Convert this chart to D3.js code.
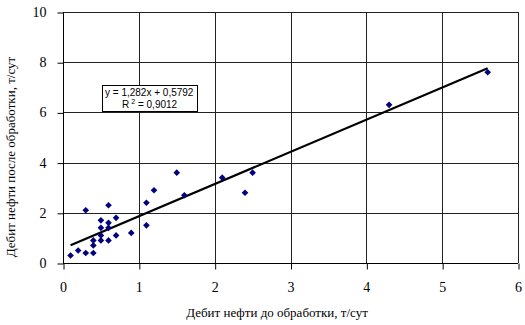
<!DOCTYPE html>
<html>
<head>
<meta charset="utf-8">
<script src="https://cdn.jsdelivr.net/npm/d3@7"></script>
<style>
  body { margin: 0; background: #fff; }
  text { font-family: "Liberation Serif", "Times New Roman", serif; }
</style>
</head>
<body>
<script>

var width = 525,
	height = 325;

// скважины: дебит до и после обработки
var before = [0.1, 0.2, 0.3, 0.4, 0.4, 0.4, 0.5, 0.5, 0.6, 0.7, 0.5, 0.6, 0.5, 0.7, 0.6, 0.9, 1.1, 1.1, 0.3, 0.6, 1.2, 1.6, 1.5, 2.1, 2.4, 2.5, 4.3, 5.6];
var after  = [0.3, 0.5, 0.4, 0.4, 0.7, 0.9, 0.9, 1.1, 0.9, 1.1, 1.4, 1.6, 1.7, 1.8, 1.4, 1.2, 1.5, 2.4, 2.1, 2.3, 2.9, 2.7, 3.6, 3.4, 2.8, 3.6, 6.3, 7.6];

var xTicks = [0, 1, 2, 3, 4, 5, 6];
var yTicks = [0, 2, 4, 6, 8, 10];

var slope = 1.282,
	intercept = 0.5792,
	r2 = '0,9012';

var fmt = function(v){ return String(v).replace('.', ','); };

var svg = d3.select('body').append('svg')
			.attr('width', width)
			.attr('height', height)

var x = d3.scaleLinear()
			.domain([0, 6])
			.range([63, 518]);

var y = d3.scaleLinear()
			.domain([0, 10])
			.range([263, 12]);

// сетка
svg.selectAll('.hgrid')
	.data(yTicks.slice(1))
	.enter().append('line').classed('hgrid', true)
	.attr('x1', x(0)).attr('x2', x(6))
	.attr('y1', function(d){ return Math.round(y(d)) + 0.5 })
	.attr('y2', function(d){ return Math.round(y(d)) + 0.5 })
	.attr('stroke', '#222')
	.attr('stroke-width', 1)

svg.selectAll('.vgrid')
	.data(xTicks.slice(1))
	.enter().append('line').classed('vgrid', true)
	.attr('y1', y(0)).attr('y2', y(10))
	.attr('x1', function(d){ return Math.round(x(d)) + 0.5 })
	.attr('x2', function(d){ return Math.round(x(d)) + 0.5 })
	.attr('stroke', '#222')
	.attr('stroke-width', 1)

// оси
var yAxis = svg.append('g')
	.attr('transform', 'translate(' + (Math.round(x(0)) + 0.5) + ',0)')
	.call(d3.axisLeft(y).tickValues(yTicks).tickSize(6).tickPadding(11).tickFormat(fmt));

var xAxis = svg.append('g')
	.attr('transform', 'translate(0,' + (Math.round(y(0)) + 0.5) + ')')
	.call(d3.axisBottom(x).tickValues(xTicks).tickSize(6).tickPadding(13).tickFormat(fmt));

[yAxis, xAxis].forEach(function(a){
	a.attr('font-family', '"Liberation Serif", serif').attr('font-size', 14);
	a.select('.domain').attr('stroke', '#000').attr('d', function(){
		return a === yAxis ? 'M0,' + y(0) + 'V' + y(10) : 'M' + x(0) + ',0H' + x(6);
	});
	a.selectAll('.tick line').attr('stroke', '#000');
	a.selectAll('.tick line').attr('transform', function(){ return a === yAxis ? 'translate(0,0.5)' : 'translate(0.5,0)' });
	a.selectAll('.tick text')
		.attr('fill', '#000')
		.attr('font-family', '"Liberation Serif", serif')
		.attr('font-size', 14);
});

// линия тренда
var x0 = d3.min(before), x1 = d3.max(before);
svg.append('line')
	.attr('x1', x(x0)).attr('y1', y(slope * x0 + intercept))
	.attr('x2', x(x1)).attr('y2', y(slope * x1 + intercept))
	.attr('stroke', '#000')
	.attr('stroke-width', 2.2)

// точки (ромбы)
var pts = before.map(function(v, i){ return {b: v, a: after[i]} });

svg.selectAll('.pt')
	.data(pts)
	.enter().append('path').classed('pt', true)
	.attr('d', d3.symbol().type(d3.symbolSquare).size(22))
	.attr('transform', function(d){ return 'translate(' + x(d.b) + ',' + y(d.a) + ') rotate(45)' })
	.attr('fill', '#000080')

// подпись уравнения
var lbl = svg.append('g').attr('transform', 'translate(102,85)');
lbl.append('rect')
	.attr('x', 0.5).attr('y', 0.5)
	.attr('width', 95).attr('height', 26)
	.attr('fill', '#fff')
	.attr('stroke', '#000')
lbl.append('text')
	.attr('x', 3).attr('y', 11)
	.style('font-family', '"Liberation Sans", Arial, sans-serif')
	.style('font-size', '10px')
	.text('y = ' + fmt(slope) + 'x + ' + fmt(intercept))
var r2t = lbl.append('text')
	.attr('x', 20).attr('y', 23)
	.style('font-family', '"Liberation Sans", Arial, sans-serif')
	.style('font-size', '10px')
r2t.append('tspan').text('R')
r2t.append('tspan').attr('dy', -4).attr('dx', 2).style('font-size', '7px').text('2')
r2t.append('tspan').attr('dy', 4).text(' = ' + r2)

// подписи осей
svg.append('text')
	.attr('x', 277).attr('y', 317)
	.attr('text-anchor', 'middle')
	.style('font-size', '13px')
	.text('Дебит нефти до обработки, т/сут')

svg.append('text')
	.attr('transform', 'translate(15,157) rotate(-90)')
	.attr('text-anchor', 'middle')
	.style('font-size', '13px')
	.text('Дебит нефти после обработки, т/сут')

</script>
</body>
</html>
